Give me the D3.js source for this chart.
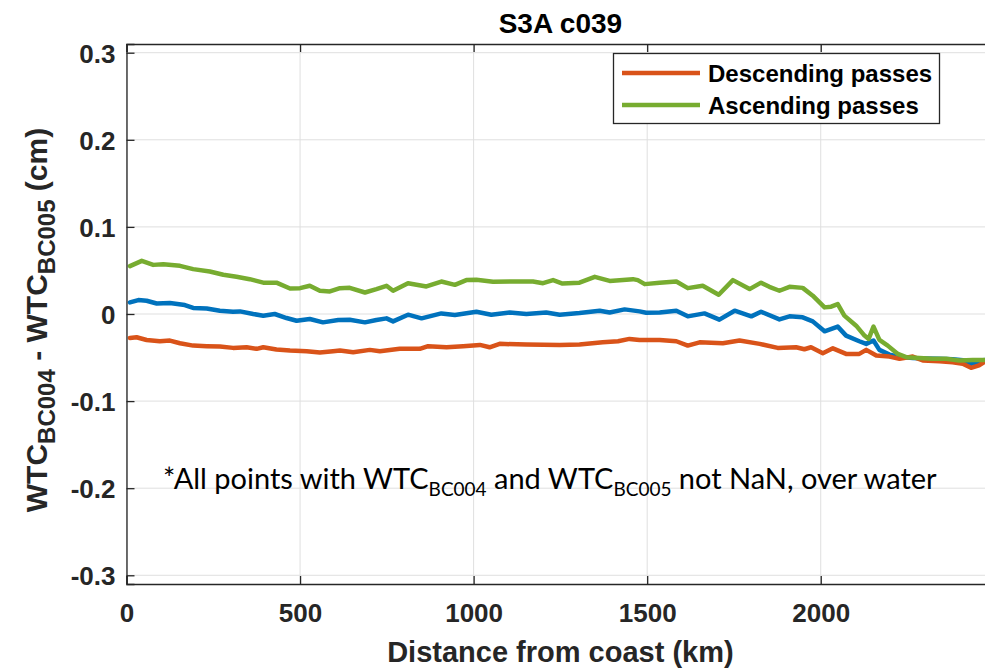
<!DOCTYPE html>
<html>
<head>
<meta charset="utf-8">
<script src="https://cdn.jsdelivr.net/npm/d3@7"></script>
<style>
  html, body { margin: 0; padding: 0; background: #fff; }
  svg { display: block; }
</style>
</head>
<body>
<svg id="chart" width="985" height="669"></svg>
<script>
// ---- data ----
const chartTitle = "S3A c039";
const xTicks = [0, 500, 1000, 1500, 2000, 2500];
const xTickLabels = ["0", "500", "1000", "1500", "2000", ""];
const yTicks = [0.3, 0.2, 0.1, 0, -0.1, -0.2, -0.3];
const yTickLabels = ["0.3", "0.2", "0.1", "0", "-0.1", "-0.2", "-0.3"];
const legendLabels = ["Descending passes", "Ascending passes"];

const descDist = [10,29,58,96,125,154,192,231,269,307,346,375,394,432,471,519,557,595,615,653,701,730,787,845,869,922,970,1018,1046,1075,1152,1248,1305,1372,1416,1449,1478,1536,1584,1617,1651,1718,1766,1824,1876,1929,1953,1972,2006,2035,2073,2111,2131,2160,2198,2227,2265,2294,2342,2380,2409,2433,2456,2470];
const descVal = [-0.0275,-0.0267,-0.0298,-0.0313,-0.0305,-0.0336,-0.0363,-0.037,-0.0374,-0.0389,-0.0382,-0.04,-0.0382,-0.0408,-0.042,-0.0428,-0.0443,-0.0428,-0.042,-0.0439,-0.0412,-0.0428,-0.04,-0.04,-0.037,-0.0382,-0.037,-0.0355,-0.0382,-0.0343,-0.0351,-0.0357,-0.0351,-0.0325,-0.0313,-0.0286,-0.0298,-0.0298,-0.0313,-0.0363,-0.0325,-0.0336,-0.0305,-0.0343,-0.0389,-0.0382,-0.0405,-0.0382,-0.045,-0.0394,-0.0458,-0.0458,-0.0412,-0.0477,-0.0489,-0.0515,-0.0489,-0.0534,-0.0542,-0.0554,-0.0572,-0.0618,-0.059,-0.0554];

const ascDist = [10,44,77,106,154,192,240,279,317,355,394,432,471,500,528,557,586,615,643,687,720,749,768,811,864,907,946,979,1008,1056,1113,1171,1200,1229,1256,1305,1349,1392,1459,1473,1493,1536,1584,1617,1660,1706,1747,1795,1828,1852,1881,1910,1948,1977,2011,2030,2049,2068,2102,2126,2138,2152,2169,2193,2222,2246,2284,2322,2361,2399,2438,2470];
const ascVal = [0.055,0.061,0.0564,0.0572,0.0553,0.0515,0.0488,0.045,0.0427,0.040,0.036,0.036,0.0293,0.0297,0.0324,0.0267,0.0259,0.0297,0.030,0.0247,0.0286,0.0324,0.0267,0.0354,0.0316,0.0373,0.0335,0.0389,0.0392,0.037,0.0373,0.0373,0.0354,0.0389,0.0350,0.036,0.0427,0.038,0.040,0.0389,0.0343,0.036,0.0373,0.0297,0.0324,0.0221,0.0389,0.0286,0.036,0.0312,0.0267,0.0312,0.030,0.021,0.0076,0.0084,0.0114,-0.0019,-0.0134,-0.0248,-0.0286,-0.0145,-0.0298,-0.0363,-0.0458,-0.0496,-0.0504,-0.0515,-0.0515,-0.0534,-0.0527,-0.0527];

const allDist = [10,34,58,87,125,168,192,231,269,307,327,365,394,427,461,490,528,566,610,643,687,720,749,768,811,850,907,946,1008,1051,1104,1152,1209,1248,1305,1363,1392,1435,1478,1497,1536,1584,1617,1665,1708,1752,1800,1828,1881,1910,1948,1977,2011,2049,2073,2111,2131,2152,2169,2198,2227,2265,2300,2340,2380,2410,2433,2456,2470];
const allVal = [0.0133,0.016,0.0152,0.0121,0.0126,0.0103,0.0069,0.0064,0.0038,0.0026,0.003,0.0,-0.0019,0.0,-0.0046,-0.0077,-0.0057,-0.0096,-0.0069,-0.0065,-0.0096,-0.0069,-0.005,-0.0085,-0.0008,-0.005,0.0007,-0.0011,0.0026,-0.0008,0.0018,0.0,0.0018,-0.0008,0.0011,0.0038,0.0018,0.0053,0.003,0.0015,0.0018,0.0038,-0.0027,0.0007,-0.0065,0.0038,-0.0027,0.0026,-0.0062,-0.0027,-0.0038,-0.0085,-0.0199,-0.0145,-0.0248,-0.0313,-0.0343,-0.0305,-0.0412,-0.0466,-0.049,-0.0505,-0.051,-0.0515,-0.052,-0.053,-0.0572,-0.055,-0.053];

// ---- layout ----
const svg = d3.select("#chart");
const L = 126.5, R = 994.3, T = 44, B = 584;
const x = d3.scaleLinear().domain([0, 2500]).range([L, R]);
const y = d3.scaleLinear().domain([-0.31, 0.31]).range([B, T]);
const axisCol = "#262626";
const gridCol = "#dfdfdf";
const cDesc = "#D95319", cAsc = "#77AC30", cAll = "#0072BD";
const tickFont = "'Liberation Sans', Arial, Helvetica, sans-serif";

// grid
const grid = svg.append("g");
grid.selectAll("line.gx").data(xTicks).enter().append("line")
  .attr("x1", d => x(d)).attr("x2", d => x(d)).attr("y1", T).attr("y2", B)
  .attr("stroke", gridCol).attr("stroke-width", 1);
grid.selectAll("line.gy").data(yTicks).enter().append("line")
  .attr("x1", L).attr("x2", R).attr("y1", d => y(d)).attr("y2", d => y(d))
  .attr("stroke", gridCol).attr("stroke-width", 1);

// lines
const line = d3.line().x(d => x(d[0])).y(d => y(d[1]));
const series = [
  { d: d3.zip(allDist, allVal), c: cAll },
  { d: d3.zip(descDist, descVal), c: cDesc },
  { d: d3.zip(ascDist, ascVal), c: cAsc }
];
svg.append("clipPath").attr("id", "pc").append("rect")
  .attr("x", L).attr("y", T).attr("width", R - L).attr("height", B - T);
svg.append("g").attr("clip-path", "url(#pc)")
  .selectAll("path").data(series).enter().append("path")
  .attr("d", s => line(s.d)).attr("fill", "none")
  .attr("stroke", s => s.c).attr("stroke-width", 4.5)
  .attr("stroke-linejoin", "round").attr("stroke-linecap", "round");

// axes (MATLAB-style box with inward ticks)
const tl = 8;
const gB = svg.append("g").attr("transform", `translate(0,${B})`)
  .call(d3.axisBottom(x).tickValues(xTicks).tickSize(-tl).tickPadding(0)
    .tickFormat((d, i) => xTickLabels[i]));
const gT = svg.append("g").attr("transform", `translate(0,${T})`)
  .call(d3.axisTop(x).tickValues(xTicks).tickSize(-tl).tickFormat(""));
const gL = svg.append("g").attr("transform", `translate(${L},0)`)
  .call(d3.axisLeft(y).tickValues(yTicks).tickSize(-tl).tickPadding(0)
    .tickFormat((d, i) => yTickLabels[i]));
const gR = svg.append("g").attr("transform", `translate(${R},0)`)
  .call(d3.axisRight(y).tickValues(yTicks).tickSize(-tl).tickFormat(""));
[gB, gT, gL, gR].forEach(g => {
  g.select(".domain").attr("stroke", axisCol).attr("stroke-width", 1.3);
  g.selectAll(".tick line").attr("stroke", axisCol).attr("stroke-width", 1.3);
});
gB.selectAll(".tick text").attr("y", 0).attr("dy", 38)
  .attr("font-family", tickFont).attr("font-weight", "bold")
  .attr("font-size", 26).attr("fill", axisCol);
gL.selectAll(".tick text").attr("x", -11).attr("dy", "0.36em")
  .attr("font-family", tickFont).attr("font-weight", "bold")
  .attr("font-size", 26).attr("fill", axisCol);

// title
svg.append("text").attr("x", (L + R) / 2).attr("y", 33)
  .attr("text-anchor", "middle").attr("font-family", tickFont)
  .attr("font-weight", "bold").attr("font-size", 28).attr("fill", "#000")
  .text(chartTitle);

// x label
svg.append("text").attr("x", (L + R) / 2).attr("y", 662)
  .attr("text-anchor", "middle").attr("font-family", tickFont)
  .attr("font-weight", "bold").attr("font-size", 29).attr("fill", axisCol)
  .text("Distance from coast (km)");

// y label with subscripts
const yl = svg.append("text")
  .attr("transform", "translate(47,320) rotate(-90)")
  .attr("text-anchor", "middle").attr("font-family", tickFont)
  .attr("font-weight", "bold").attr("font-size", 30).attr("fill", axisCol);
yl.append("tspan").text("WTC");
yl.append("tspan").attr("font-size", 24).attr("dy", 8).text("BC004");
yl.append("tspan").attr("dy", -8).text(" - WTC");
yl.append("tspan").attr("font-size", 24).attr("dy", 8).text("BC005");
yl.append("tspan").attr("dy", -8).text(" (cm)");

// legend
const lg = svg.append("g");
lg.append("rect").attr("x", 613.5).attr("y", 53.5).attr("width", 326).attr("height", 70)
  .attr("fill", "#fff").attr("stroke", axisCol).attr("stroke-width", 1.3);
const legendColors = [cDesc, cAsc];
legendLabels.forEach((lab, i) => {
  const ly = 73 + i * 32;
  lg.append("line").attr("x1", 622).attr("x2", 700).attr("y1", ly).attr("y2", ly)
    .attr("stroke", legendColors[i]).attr("stroke-width", 4.5);
  lg.append("text").attr("x", 708).attr("y", ly + 9)
    .attr("font-family", tickFont).attr("font-weight", "bold")
    .attr("font-size", 24).attr("fill", "#000").text(lab);
});

// annotation
const ann = svg.append("text").attr("x", 0).attr("y", 0)
  .attr("font-family", "Lato, 'Open Sans', sans-serif")
  .attr("font-size", 29).attr("fill", "#000");
ann.append("tspan").text("*All points with WTC");
ann.append("tspan").attr("font-size", 19).attr("dy", 7).text("BC004");
ann.append("tspan").attr("dy", -7).text(" and WTC");
ann.append("tspan").attr("font-size", 19).attr("dy", 7).text("BC005");
ann.append("tspan").attr("dy", -7).text(" not NaN, over water");
const w = ann.node().getComputedTextLength();
ann.attr("transform", `translate(163,489) scale(${774 / w},1)`);
</script>
</body>
</html>
